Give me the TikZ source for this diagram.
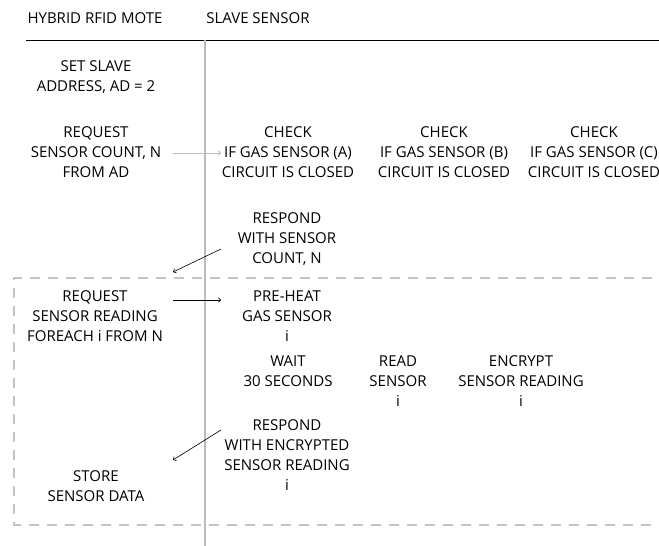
\documentclass[tikz,border=0pt]{standalone}
\usepackage{fontspec}
\setmainfont{Open Sans}
\usetikzlibrary{arrows.meta}
\definecolor{lanegray}{HTML}{BBBBBB}
\definecolor{dashgray}{HTML}{C4C4C4}
\tikzset{
  lbl/.style={align=center, inner sep=0pt, font=\fontsize{15}{20}\selectfont},
  msg/.style={line width=0.6pt, -{To[length=3pt,width=5pt]}},
  graymsg/.style={msg, draw=lanegray, line width=1pt},
}
\begin{document}
\begin{tikzpicture}[x=1pt,y=-1pt]
\useasboundingbox (0,0) rectangle (659,546);
% lanes
\coordinate (hl) at (26,40);
\coordinate (hr) at (659,40);
\coordinate (vt) at (205,40);
\coordinate (vb) at (205,546);
\draw[black, line width=0.8pt] (hl) -- (hr);
\draw[lanegray, line width=1.6pt] (vt) -- (vb);
% dashed loop box
\coordinate (b1) at (14,278);
\coordinate (b2) at (670,525);
\draw[dashgray, line width=1.2pt, dash pattern=on 10pt off 8pt] (b2 |- b1) -- (b1) -- (b1 |- b2) -- (b2);
% headers
\node[lbl] (h1) at (95,18) {HYBRID RFID MOTE};
\node[lbl] (h2) at (258,18) {SLAVE SENSOR};
% texts
\node[lbl] (setad) at (96,77) {SET SLAVE\\ADDRESS, AD = 2};
\node[lbl] (reqn) at (96,152) {REQUEST\\SENSOR COUNT, N\\FROM AD};
\node[lbl] (cka) at (288,152) {CHECK\\IF GAS SENSOR (A)\\CIRCUIT IS CLOSED};
\node[lbl] (ckb) at (444,152) {CHECK\\IF GAS SENSOR (B)\\CIRCUIT IS CLOSED};
\node[lbl] (ckc) at (594,152) {CHECK\\IF GAS SENSOR (C)\\CIRCUIT IS CLOSED};
\node[lbl] (resn) at (287,239) {RESPOND\\WITH SENSOR\\COUNT, N};
\node[lbl] (reqr) at (95,316) {REQUEST\\SENSOR READING\\FOREACH i FROM N};
\node[lbl] (pre) at (287,316) {PRE-HEAT\\GAS SENSOR\\i};
\node[lbl] (wait) at (288,371) {WAIT\\30 SECONDS};
\node[lbl] (read) at (398,381) {READ\\SENSOR\\i};
\node[lbl] (enc) at (521,381) {ENCRYPT\\SENSOR READING\\i};
\node[lbl] (rese) at (287,455) {RESPOND\\WITH ENCRYPTED\\SENSOR READING\\i};
\node[lbl] (store) at (96,486) {STORE\\SENSOR DATA};
% connectors
\coordinate (a1s) at (173,153);
\coordinate (a1e) at (221,153);
\coordinate (a2s) at (221,249);
\coordinate (a2e) at (173,272);
\coordinate (a3s) at (173,300);
\coordinate (a3e) at (221,300);
\coordinate (a4s) at (221,430);
\coordinate (a4e) at (173,460);
\draw[graymsg] (a1s) -- (a1e);
\draw[msg] (a2s) -- (a2e);
\draw[msg] (a3s) -- (a3e);
\draw[msg] (a4s) -- (a4e);
\end{tikzpicture}
\end{document}
